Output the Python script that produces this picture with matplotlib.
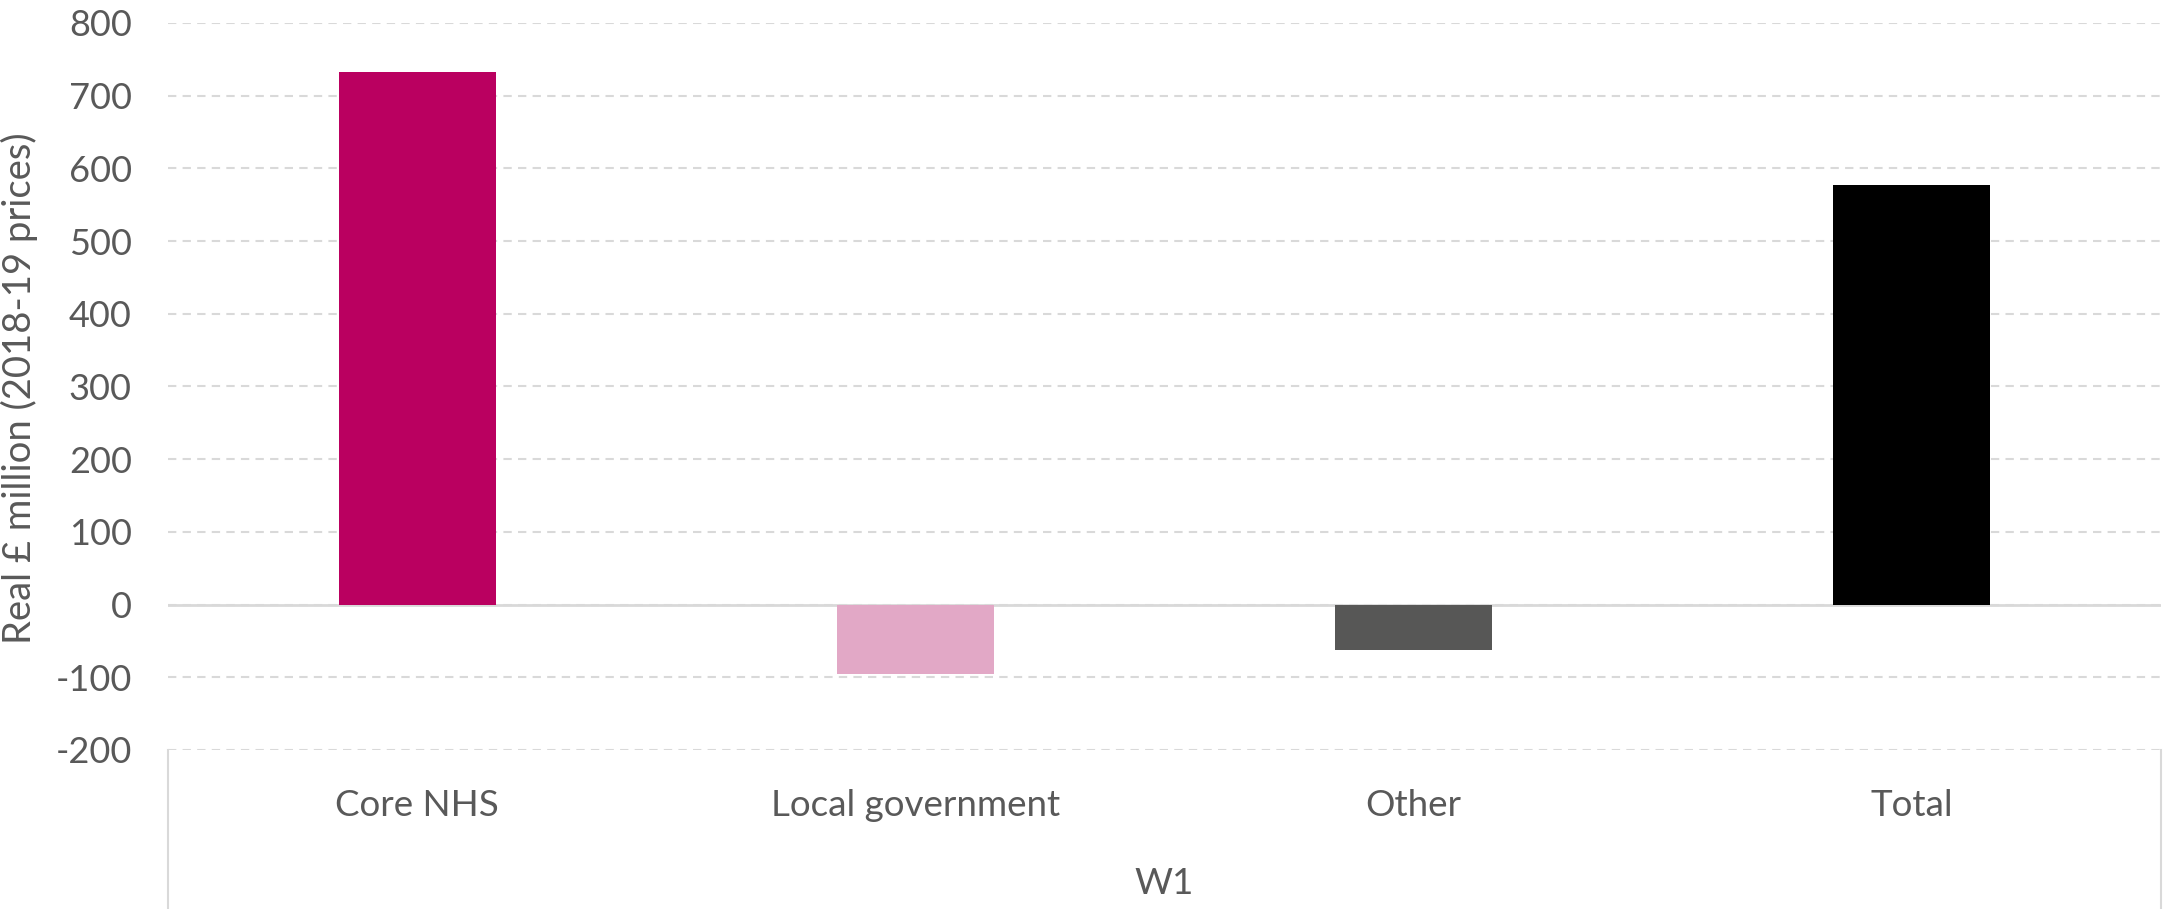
import matplotlib
matplotlib.use("Agg")
from matplotlib import pyplot as plt
from matplotlib.lines import Line2D

# data
categories = ["Core NHS", "Local government", "Other", "Total"]
values = [732, -95, -62, 577]
group_label = "W1"
bar_colors = ["#BA0060", "#E2A8C6", "#575756", "#000000"]
y_ticks = [-200, -100, 0, 100, 200, 300, 400, 500, 600, 700, 800]

TEXT = "#595959"
GRID = "#D9D9D9"

plt.rcParams["font.family"] = ["Lato", "DejaVu Sans"]

fig = plt.figure(figsize=(21.65, 9.09), dpi=100)
left, bottom, width, height = 0.0776, 0.175, 0.9204, 0.7997
ax = fig.add_axes([left, bottom, width, height])

x = list(range(len(categories)))
ax.bar(x, values, width=0.315, color=bar_colors, zorder=3)

ax.set_xlim(-0.5, len(categories) - 0.5)
ax.set_ylim(-200, 800)
ax.set_yticks(y_ticks)
ax.set_yticklabels([str(t) for t in y_ticks])
ax.set_xticks([])

ax.yaxis.grid(True, color=GRID, linestyle=(0, (4, 3)), linewidth=1.5, zorder=0)
ax.axhline(0, color=GRID, linewidth=2, zorder=2)
ax.tick_params(axis="y", length=0, pad=26, labelsize=26, labelcolor=TEXT)
for s in ax.spines.values():
    s.set_visible(False)

# multi-level category axis below the plot area
for i, c in enumerate(categories):
    fig.text(left + width * (i + 0.5) / len(categories), 1 - 805 / 909, c,
             ha="center", va="center", fontsize=26.5, color=TEXT)
fig.text(left + width / 2, 1 - 884 / 909, group_label,
         ha="center", va="center", fontsize=26.5, color=TEXT)
for xf in (left, left + width):
    fig.add_artist(Line2D([xf, xf], [0, bottom], transform=fig.transFigure,
                          color=GRID, linewidth=1.5))

fig.text(0.009, 1 - 388 / 909, "Real £ million (2018-19 prices)", rotation=90,
         ha="center", va="center", fontsize=27.5, color=TEXT)

plt.savefig("out.png", dpi=100)
